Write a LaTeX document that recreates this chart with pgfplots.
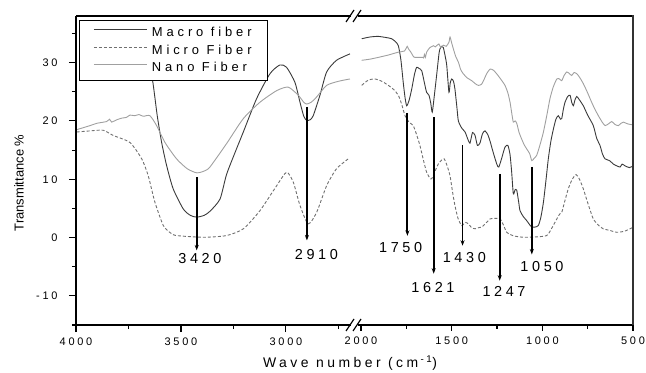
\documentclass[border=0pt]{standalone}
\usepackage{fontspec}
\setmainfont{Liberation Sans}
\newfontfamily\lsp[LetterSpace=25]{Liberation Sans}
\newfontfamily\lspl[LetterSpace=30]{Liberation Sans}
\usepackage{pgfplots}
\pgfplotsset{compat=1.18}
\usetikzlibrary{arrows.meta}
\definecolor{macroc}{HTML}{3A3A3A}
\definecolor{microc}{HTML}{707070}
\definecolor{nanoc}{HTML}{A0A0A0}
\newcommand{\legtxt}[1]{\fontsize{13}{14}\lspl #1}
\tikzset{arr/.style={line width=1.9bp, -{Stealth[length=5.5bp,width=4bp]}}}
\begin{document}
\begin{tikzpicture}
\useasboundingbox (0bp,0bp) rectangle (646bp,373bp);
\pgfplotsset{
  common/.style={
    scale only axis, height=309bp, ymin=-15, ymax=38, x dir=reverse,
    axis line style={draw=none}, tick align=outside,
    major tick length=6bp, minor tick length=4bp,
    tick style={black, line width=1.1bp},
    xticklabel style={font=\fontsize{11}{13}\lsp, yshift=-2bp},
    yticklabel style={font=\fontsize{11}{13}\lsp, xshift=-8bp},
    xtick pos=bottom, ytick pos=left,
  },
  macro/.style={color=macroc, line width=0.9bp, smooth, tension=0.4},
  micro/.style={color=microc, line width=0.9bp, dash pattern=on 3bp off 2bp, smooth, tension=0.4},
  nano/.style={color=nanoc, line width=0.9bp, smooth, tension=0.4},
}
% ---------- left segment 4000 - 2700 ----------
\begin{axis}[common, at={(76bp,48bp)}, anchor=south west, width=279bp,
  xmin=2671, xmax=4000,
  xtick={3000,3500,4000}, xticklabels={3000,3500,4000},
  minor xtick={2750,3250,3750},
  ytick={-10,0,10,20,30}, yticklabels={-10,0,10,20,30},
  minor ytick={-15,-5,5,15,25,35},
  major tick length=7bp,
  legend style={at={(0.011,0.987)}, anchor=north west, draw=black, line width=0.9bp,
    fill=white, inner xsep=14bp, inner ysep=5.5bp,
    row sep=2.5bp, column sep=3bp,
    nodes={inner sep=1.5bp, text height=9.3bp, text depth=2.5bp},
    cells={anchor=west}},
  legend image code/.code={\draw[#1] (0bp,3.6bp) -- (53bp,3.6bp);},
]
\addplot[macro] coordinates {(3980,35) (3800,35.5) (3700,34) (3660,31) (3635,26.9) (3613,20.9) (3592,16.3) (3568,12.3) (3537,8.35) (3489,4.9) (3455,3.8) (3425,3.5) (3390,3.8) (3362,4.5) (3314,6.6) (3283,10.8) (3240,14.8) (3203,18.1) (3140,23.8) (3076,28.1) (3029,29.6) (2997,29.2) (2957,26.6) (2933,23.2) (2915,20.8) (2901,20.1) (2885,20.2) (2870,20.9) (2838,24.4) (2806,28.4) (2759,30.4) (2695,31.5)};
\addlegendentry{\legtxt{Macro fiber}}
\addplot[micro] coordinates {(3997,18.1) (3930,18.3) (3870,18.4) (3822,17.5) (3743,16.3) (3687,13.5) (3656,10.6) (3624,6.05) (3584,2.06) (3550,0.8) (3521,0.34) (3394,0.05) (3283,0.34) (3203,1.5) (3124,4.6) (3044,8.9) (2997,11.2) (2965,9.5) (2933,5.5) (2894,2.35) (2854,4.3) (2806,8.9) (2759,11.8) (2703,13.5)};
\addlegendentry{\legtxt{Micro Fiber}}
\addplot[nano] coordinates {(3997,18.5) (3933,19.2) (3900,19.6) (3854,19.9) (3840,20.3) (3830,19.8) (3806,20.2) (3780,20.5) (3760,20.6) (3743,21.0) (3720,20.9) (3700,21.1) (3680,20.8) (3648,20.9) (3616,19.2) (3576,16.3) (3521,13.5) (3470,11.8) (3425,11.1) (3390,11.4) (3362,12.1) (3283,16.1) (3203,20.4) (3124,23.2) (3044,25.2) (2989,25.8) (2941,24.4) (2915,23.2) (2901,22.9) (2880,23.2) (2854,24.1) (2806,26.1) (2750,26.8) (2695,27.2)};
\addlegendentry{\legtxt{Nano Fiber}}
\draw[arr] (axis cs:3425,10.3) -- (axis cs:3425,-2.2);
\node[font=\fontsize{14.5}{16}\lsp] at (axis cs:3410,-3.6) {3420};
\draw[arr] (axis cs:2900,22.4) -- (axis cs:2900,-0.5);
\node[font=\fontsize{14.5}{16}\lsp] at (axis cs:2855,-2.9) {2910};
\end{axis}
% ---------- right segment 2000 - 500 ----------
\begin{axis}[common, at={(355bp,48bp)}, anchor=south west, width=278bp,
  xmin=500, xmax=2033,
  xtick={500,1000,1500,2000}, xticklabels={500,1000,1500,2000},
  minor xtick={750,1250,1750},
  ytick=\empty,
]
\addplot[macro] coordinates {(1996,34.1) (1950,34.4) (1905,34.5) (1860,34.3) (1831,34.1) (1810,33.6) (1794,32.9) (1780,30.5) (1767,26.6) (1757,24.0) (1748,22.6) (1735,23.5) (1720,25.5) (1705,28.0) (1693,29.2) (1680,29.0) (1665,28.6) (1650,26.5) (1638,24.9) (1625,24.4) (1615,23.0) (1607,21.5) (1595,24.5) (1583,27.8) (1570,31.5) (1564,32.4) (1555,32.8) (1546,32.6) (1535,31.0) (1527,29.5) (1515,24.9) (1508,26.5) (1500,27.2) (1490,26.8) (1482,25.5) (1470,22.0) (1463,20.0) (1445,18.8) (1426,18.1) (1410,16.8) (1399,16.2) (1385,18.0) (1371,17.5) (1358,15.8) (1344,16.2) (1330,17.8) (1316,18.3) (1300,17.6) (1288,16.5) (1270,14.5) (1250,12.5) (1240,12.1) (1225,13.5) (1206,15.5) (1190,15.8) (1178,14.2) (1169,11.2) (1160,7.5) (1150,8.2) (1141,8.1) (1130,6.0) (1123,4.6) (1105,3.6) (1086,2.9) (1070,2.2) (1058,1.8) (1040,1.8) (1022,2.06) (1008,3.5) (994,6.05) (980,9.8) (967,13.5) (953,16.5) (939,18.6) (925,20.3) (912,20.9) (900,20.3) (893,20.4) (884,22.0) (875,23.2) (860,24.2) (847,24.4) (838,23.2) (829,22.6) (820,23.6) (810,24.2) (795,23.6) (774,22.6) (750,21.0) (719,19.2) (700,17.0) (682,15.8) (668,14.3) (654,13.5) (630,13.2) (608,12.6) (590,12.3) (571,12.1) (560,12.6) (544,12.3) (520,12.0) (498,12.3)};
\addplot[micro] coordinates {(1996,26.1) (1960,27.0) (1923,27.2) (1885,26.8) (1849,26.1) (1820,25.4) (1794,24.4) (1775,22.8) (1757,20.9) (1735,19.8) (1712,19.2) (1695,17.8) (1675,15.8) (1655,13.2) (1638,11.2) (1620,10.2) (1610,10.1) (1590,11.5) (1574,12.6) (1555,13.3) (1541,13.5) (1525,12.3) (1509,10.6) (1495,7.8) (1482,5.5) (1465,3.3) (1445,2.06) (1425,2.6) (1408,2.35) (1390,1.7) (1371,1.5) (1350,1.7) (1334,1.8) (1310,2.5) (1298,2.9) (1288,3.2) (1260,3.3) (1233,3.2) (1215,2.2) (1196,0.9) (1160,0.3) (1105,0.05) (1040,0.1) (976,0.34) (950,1.5) (920,3.2) (905,4.0) (893,4.3) (880,5.8) (857,8.35) (835,10.0) (814,10.8) (795,10.0) (774,8.35) (745,5.5) (719,3.2) (690,2.1) (664,1.5) (625,1.2) (590,0.9) (545,1.1) (498,1.8)};
\addplot[nano] coordinates {(1996,30.4) (1950,30.6) (1905,30.9) (1850,31.3) (1794,31.8) (1760,32.0) (1745,32.8) (1739,32.4) (1725,31.8) (1710,31.0) (1702,30.9) (1680,30.9) (1660,30.9) (1655,30.8) (1650,31.4) (1645,30.9) (1638,31.8) (1625,32.4) (1619,32.6) (1600,32.9) (1590,32.7) (1583,32.9) (1570,33.2) (1560,32.6) (1545,33.0) (1530,32.8) (1515,33.5) (1509,34.4) (1500,33.4) (1491,32.4) (1477,31.0) (1463,30.1) (1450,28.8) (1436,28.1) (1415,27.4) (1389,26.9) (1370,26.4) (1353,26.1) (1335,26.3) (1320,27.2) (1307,28.1) (1288,28.9) (1270,28.7) (1252,28.1) (1230,27.2) (1206,26.1) (1190,24.8) (1178,23.2) (1168,21.2) (1160,19.8) (1150,20.0) (1141,19.6) (1128,18.0) (1114,16.9) (1100,15.9) (1086,15.2) (1070,14.4) (1058,13.2) (1045,13.6) (1031,14.1) (1012,16.0) (994,18.1) (975,21.0) (958,23.8) (940,25.8) (920,27.2) (905,27.2) (893,26.9) (880,27.8) (865,28.4) (850,28.1) (838,27.8) (825,28.3) (810,28.1) (795,27.5) (774,26.4) (750,24.8) (728,23.2) (710,22.0) (691,20.9) (670,19.8) (654,19.2) (635,19.5) (617,19.9) (600,19.4) (581,19.2) (566,19.6) (553,19.8) (530,19.5) (498,19.3)};
\draw[arr] (axis cs:1744,21.4) -- (axis cs:1744,0.3);
\node[font=\fontsize{14.5}{16}\lsp] at (axis cs:1781,-1.7) {1750};
\draw[arr] (axis cs:1599,20.6) -- (axis cs:1599,-6.2);
\node[font=\fontsize{14.5}{16}\lsp] at (axis cs:1603,-8.5) {1621};
\draw[arr] (axis cs:1440,15.8) -- (axis cs:1440,-1.4);
\node[font=\fontsize{14.5}{16}\lsp] at (axis cs:1430,-3.4) {1430};
\draw[arr] (axis cs:1235,10.9) -- (axis cs:1235,-7.4);
\node[font=\fontsize{14.5}{16}\lsp] at (axis cs:1211,-9.2) {1247};
\draw[arr] (axis cs:1058,12.1) -- (axis cs:1058,-2.9);
\node[font=\fontsize{14.5}{16}\lsp] at (axis cs:1002,-5.0) {1050};
\end{axis}
% frame
\draw[line width=1.6bp] (76bp,357bp) -- (76bp,47.2bp);
\draw[line width=1.6bp] (75.2bp,48bp) -- (633bp,48bp);
\draw[line width=1.2bp] (76bp,357bp) -- (633bp,357bp);
\draw[line width=1.2bp, color=black!80] (633bp,48bp) -- (633bp,357.6bp);
% break marks
\fill[white] (350.5bp,44bp) rectangle (357.5bp,52bp);
\fill[white] (350.5bp,353bp) rectangle (357.5bp,361bp);
\draw[line width=1.2bp] (346bp,42bp) -- (354bp,54bp);
\draw[line width=1.2bp] (353bp,42bp) -- (361bp,54bp);
\draw[line width=1.2bp] (346bp,351bp) -- (354bp,363bp);
\draw[line width=1.2bp] (353bp,351bp) -- (361bp,363bp);
% axis labels
\node[rotate=90, font=\fontsize{13}{15}\selectfont] at (19bp,190bp) {Transmittance \%};
\node[font=\fontsize{14}{16}\lsp] at (350bp,10bp) {Wave number (cm\,\textsuperscript{-1})};
\end{tikzpicture}
\end{document}
